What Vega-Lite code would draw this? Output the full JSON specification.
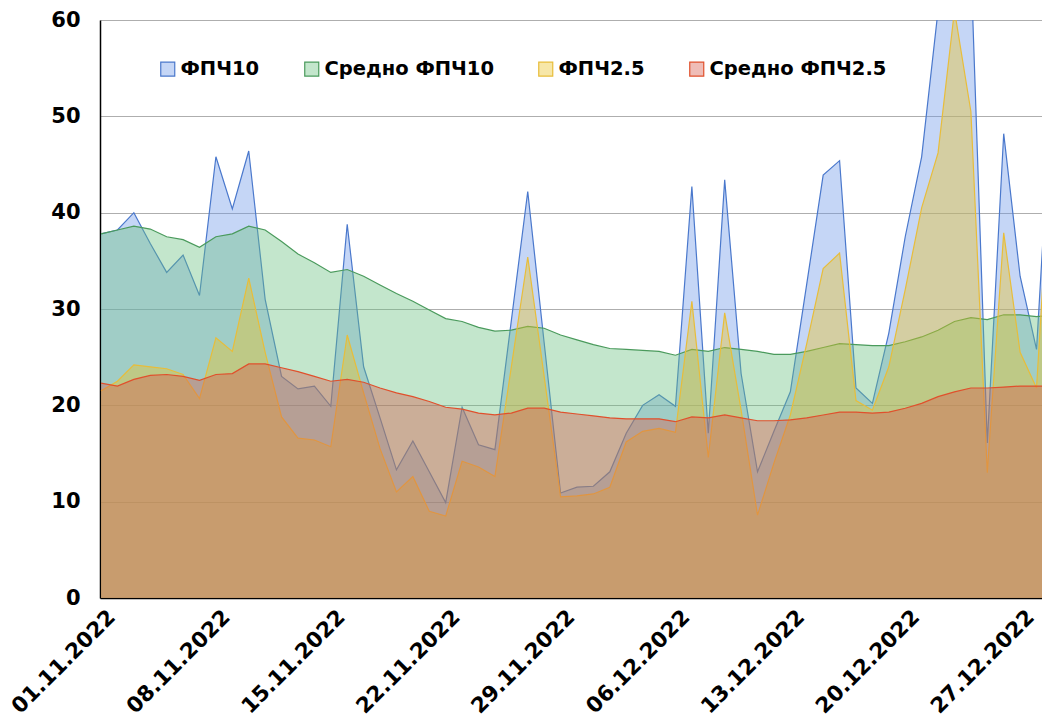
{
  "$schema": "https://vega.github.io/schema/vega-lite/v6.json",
  "width": 942,
  "height": 578,
  "autosize": {"type": "none"},
  "padding": {"left": 100, "top": 20, "right": 0, "bottom": 122},
  "background": "white",
  "config": {
    "view": {"stroke": null},
    "font": "DejaVu Sans",
    "axis": {"zindex": 1, "labelFont": "DejaVu Sans", "labelFontWeight": "bold", "labelColor": "#000000", "domainColor": "#000000", "domainWidth": 1.5, "ticks": false, "tickSize": 0, "title": null},
    "axisY": {"grid": true, "gridColor": "#8c8c8c", "gridOpacity": 0.7, "gridWidth": 1, "labelPadding": 20, "labelFontSize": 21},
    "axisX": {"grid": false, "labelFontSize": 21.5},
    "legend": {"orient": "none", "legendX": 58, "legendY": 39, "direction": "horizontal", "padding": 0, "columnPadding": 42, "symbolType": "square", "symbolSize": 196, "symbolStrokeWidth": 1.2, "labelFont": "DejaVu Sans", "labelFontWeight": "bold", "labelFontSize": 19.5, "labelColor": "#000000", "labelOffset": 3, "labelLimit": 400}
  },
  "data": {
    "values": [
      {"d": "2022-11-01", "pm10": 37.8, "avg10": 37.8, "pm25": 21.5, "avg25": 22.3},
      {"d": "2022-11-02", "pm10": 38.2, "avg10": 38.2, "pm25": 22.5, "avg25": 22.0},
      {"d": "2022-11-03", "pm10": 40.0, "avg10": 38.6, "pm25": 24.2, "avg25": 22.7},
      {"d": "2022-11-04", "pm10": 36.8, "avg10": 38.3, "pm25": 24.0, "avg25": 23.1},
      {"d": "2022-11-05", "pm10": 33.8, "avg10": 37.5, "pm25": 23.8, "avg25": 23.2},
      {"d": "2022-11-06", "pm10": 35.6, "avg10": 37.2, "pm25": 23.2, "avg25": 23.0},
      {"d": "2022-11-07", "pm10": 31.4, "avg10": 36.4, "pm25": 20.7, "avg25": 22.6},
      {"d": "2022-11-08", "pm10": 45.8, "avg10": 37.5, "pm25": 27.0, "avg25": 23.2},
      {"d": "2022-11-09", "pm10": 40.4, "avg10": 37.8, "pm25": 25.6, "avg25": 23.3},
      {"d": "2022-11-10", "pm10": 46.4, "avg10": 38.6, "pm25": 33.2, "avg25": 24.3},
      {"d": "2022-11-11", "pm10": 31.0, "avg10": 38.2, "pm25": 25.5, "avg25": 24.3},
      {"d": "2022-11-12", "pm10": 23.0, "avg10": 37.0, "pm25": 18.8, "avg25": 23.9},
      {"d": "2022-11-13", "pm10": 21.7, "avg10": 35.7, "pm25": 16.6, "avg25": 23.5},
      {"d": "2022-11-14", "pm10": 22.0, "avg10": 34.8, "pm25": 16.4, "avg25": 23.0},
      {"d": "2022-11-15", "pm10": 19.9, "avg10": 33.8, "pm25": 15.7, "avg25": 22.5},
      {"d": "2022-11-16", "pm10": 38.8, "avg10": 34.1, "pm25": 27.3, "avg25": 22.7},
      {"d": "2022-11-17", "pm10": 24.0, "avg10": 33.4, "pm25": 21.3, "avg25": 22.4},
      {"d": "2022-11-18", "pm10": 18.7, "avg10": 32.5, "pm25": 15.5, "avg25": 21.8},
      {"d": "2022-11-19", "pm10": 13.3, "avg10": 31.6, "pm25": 11.0, "avg25": 21.3},
      {"d": "2022-11-20", "pm10": 16.3, "avg10": 30.8, "pm25": 12.6, "avg25": 20.9},
      {"d": "2022-11-21", "pm10": 13.1, "avg10": 29.9, "pm25": 9.0, "avg25": 20.4},
      {"d": "2022-11-22", "pm10": 9.9, "avg10": 29.0, "pm25": 8.5, "avg25": 19.8},
      {"d": "2022-11-23", "pm10": 19.8, "avg10": 28.7, "pm25": 14.2, "avg25": 19.6},
      {"d": "2022-11-24", "pm10": 15.9, "avg10": 28.1, "pm25": 13.6, "avg25": 19.2},
      {"d": "2022-11-25", "pm10": 15.4, "avg10": 27.7, "pm25": 12.6, "avg25": 19.0},
      {"d": "2022-11-26", "pm10": 28.8, "avg10": 27.8, "pm25": 24.0, "avg25": 19.2},
      {"d": "2022-11-27", "pm10": 42.2, "avg10": 28.2, "pm25": 35.4, "avg25": 19.7},
      {"d": "2022-11-28", "pm10": 26.5, "avg10": 28.0, "pm25": 23.0, "avg25": 19.7},
      {"d": "2022-11-29", "pm10": 10.9, "avg10": 27.3, "pm25": 10.5, "avg25": 19.3},
      {"d": "2022-11-30", "pm10": 11.5, "avg10": 26.8, "pm25": 10.6, "avg25": 19.1},
      {"d": "2022-12-01", "pm10": 11.6, "avg10": 26.3, "pm25": 10.8, "avg25": 18.9},
      {"d": "2022-12-02", "pm10": 13.1, "avg10": 25.9, "pm25": 11.5, "avg25": 18.7},
      {"d": "2022-12-03", "pm10": 17.1, "avg10": 25.8, "pm25": 16.2, "avg25": 18.6},
      {"d": "2022-12-04", "pm10": 20.0, "avg10": 25.7, "pm25": 17.3, "avg25": 18.6},
      {"d": "2022-12-05", "pm10": 21.1, "avg10": 25.6, "pm25": 17.6, "avg25": 18.6},
      {"d": "2022-12-06", "pm10": 19.9, "avg10": 25.2, "pm25": 17.2, "avg25": 18.3},
      {"d": "2022-12-07", "pm10": 42.7, "avg10": 25.8, "pm25": 30.8, "avg25": 18.8},
      {"d": "2022-12-08", "pm10": 17.1, "avg10": 25.6, "pm25": 14.6, "avg25": 18.7},
      {"d": "2022-12-09", "pm10": 43.4, "avg10": 26.0, "pm25": 29.6, "avg25": 19.0},
      {"d": "2022-12-10", "pm10": 23.3, "avg10": 25.8, "pm25": 19.5, "avg25": 18.7},
      {"d": "2022-12-11", "pm10": 13.1, "avg10": 25.6, "pm25": 8.6, "avg25": 18.4},
      {"d": "2022-12-12", "pm10": 17.3, "avg10": 25.3, "pm25": 14.0, "avg25": 18.4},
      {"d": "2022-12-13", "pm10": 21.4, "avg10": 25.3, "pm25": 19.0, "avg25": 18.5},
      {"d": "2022-12-14", "pm10": 32.6, "avg10": 25.6, "pm25": 26.4, "avg25": 18.7},
      {"d": "2022-12-15", "pm10": 43.9, "avg10": 26.0, "pm25": 34.2, "avg25": 19.0},
      {"d": "2022-12-16", "pm10": 45.4, "avg10": 26.4, "pm25": 35.8, "avg25": 19.3},
      {"d": "2022-12-17", "pm10": 21.8, "avg10": 26.3, "pm25": 20.5, "avg25": 19.3},
      {"d": "2022-12-18", "pm10": 20.2, "avg10": 26.2, "pm25": 19.5, "avg25": 19.2},
      {"d": "2022-12-19", "pm10": 27.5, "avg10": 26.2, "pm25": 24.0, "avg25": 19.3},
      {"d": "2022-12-20", "pm10": 37.5, "avg10": 26.6, "pm25": 32.0, "avg25": 19.7},
      {"d": "2022-12-21", "pm10": 45.8, "avg10": 27.1, "pm25": 40.5, "avg25": 20.2},
      {"d": "2022-12-22", "pm10": 61.0, "avg10": 27.8, "pm25": 46.2, "avg25": 20.9},
      {"d": "2022-12-23", "pm10": 68.0, "avg10": 28.7, "pm25": 61.0, "avg25": 21.4},
      {"d": "2022-12-24", "pm10": 66.0, "avg10": 29.1, "pm25": 50.5, "avg25": 21.8},
      {"d": "2022-12-25", "pm10": 16.1, "avg10": 28.9, "pm25": 13.0, "avg25": 21.8},
      {"d": "2022-12-26", "pm10": 48.2, "avg10": 29.4, "pm25": 37.9, "avg25": 21.9},
      {"d": "2022-12-27", "pm10": 33.4, "avg10": 29.4, "pm25": 25.5, "avg25": 22.0},
      {"d": "2022-12-28", "pm10": 25.8, "avg10": 29.2, "pm25": 21.8, "avg25": 22.0},
      {"d": "2022-12-29", "pm10": 55.0, "avg10": 29.4, "pm25": 50.0, "avg25": 22.0}
    ]
  },
  "encoding": {
    "x": {
      "field": "d",
      "type": "temporal",
      "title": null,
      "scale": {"type": "utc", "domain": [{"year": 2022, "month": 10, "date": 31, "hours": 22, "minutes": 30, "utc": true}, {"year": 2022, "month": 12, "date": 28, "hours": 8, "utc": true}]},
      "axis": {
        "format": "%d.%m.%Y",
        "labelAngle": -45,
        "labelAlign": "right",
        "labelBaseline": "top",
        "labelPadding": 8,
        "labelOffset": 3,
        "labelOverlap": false,
        "labelFlush": false,
        "labelBound": false,
        "values": [
          {"year": 2022, "month": 11, "date": 1, "utc": true},
          {"year": 2022, "month": 11, "date": 8, "utc": true},
          {"year": 2022, "month": 11, "date": 15, "utc": true},
          {"year": 2022, "month": 11, "date": 22, "utc": true},
          {"year": 2022, "month": 11, "date": 29, "utc": true},
          {"year": 2022, "month": 12, "date": 6, "utc": true},
          {"year": 2022, "month": 12, "date": 13, "utc": true},
          {"year": 2022, "month": 12, "date": 20, "utc": true},
          {"year": 2022, "month": 12, "date": 27, "utc": true}
        ]
      }
    },
    "y": {"type": "quantitative", "stack": null, "title": null, "scale": {"domain": [0, 60]}, "axis": {"values": [0, 10, 20, 30, 40, 50, 60]}}
  },
  "layer": [
    {
      "mark": {"type": "area", "clip": true, "fillOpacity": 0.4},
      "encoding": {
        "y": {"field": "pm10", "type": "quantitative", "stack": null, "title": null, "scale": {"domain": [0, 60]}, "axis": {"values": [0, 10, 20, 30, 40, 50, 60]}},
        "fill": {"datum": "ФПЧ10", "type": "nominal", "scale": {"domain": ["ФПЧ10", "Средно ФПЧ10", "ФПЧ2.5", "Средно ФПЧ2.5"], "range": ["#6e98e8", "#69c07f", "#ebc325", "#d75a4b"]}, "legend": {"title": null, "symbolFillOpacity": 0.4, "encode": {"symbols": {"update": {"fillOpacity": {"value": 0.4}, "strokeWidth": {"value": 1.2}}}}}}
      }
    },
    {
      "mark": {"type": "line", "clip": true, "strokeWidth": 1.2},
      "encoding": {
        "y": {"field": "pm10", "type": "quantitative", "stack": null, "title": null},
        "stroke": {"datum": "ФПЧ10", "type": "nominal", "scale": {"domain": ["ФПЧ10", "Средно ФПЧ10", "ФПЧ2.5", "Средно ФПЧ2.5"], "range": ["#4a78cc", "#4a9a5c", "#e8bd3a", "#e0502c"]}, "legend": {"title": null}}
      }
    },
    {
      "mark": {"type": "area", "clip": true, "fillOpacity": 0.4},
      "encoding": {
        "y": {"field": "avg10", "type": "quantitative", "stack": null, "title": null},
        "fill": {"datum": "Средно ФПЧ10", "type": "nominal", "legend": {"title": null}}
      }
    },
    {
      "mark": {"type": "line", "clip": true, "strokeWidth": 1.2},
      "encoding": {
        "y": {"field": "avg10", "type": "quantitative", "stack": null, "title": null},
        "stroke": {"datum": "Средно ФПЧ10", "type": "nominal", "legend": {"title": null}}
      }
    },
    {
      "mark": {"type": "area", "clip": true, "fillOpacity": 0.4},
      "encoding": {
        "y": {"field": "pm25", "type": "quantitative", "stack": null, "title": null},
        "fill": {"datum": "ФПЧ2.5", "type": "nominal", "legend": {"title": null}}
      }
    },
    {
      "mark": {"type": "line", "clip": true, "strokeWidth": 1.2},
      "encoding": {
        "y": {"field": "pm25", "type": "quantitative", "stack": null, "title": null},
        "stroke": {"datum": "ФПЧ2.5", "type": "nominal", "legend": {"title": null}}
      }
    },
    {
      "mark": {"type": "area", "clip": true, "fillOpacity": 0.4},
      "encoding": {
        "y": {"field": "avg25", "type": "quantitative", "stack": null, "title": null},
        "fill": {"datum": "Средно ФПЧ2.5", "type": "nominal", "legend": {"title": null}}
      }
    },
    {
      "mark": {"type": "line", "clip": true, "strokeWidth": 1.2},
      "encoding": {
        "y": {"field": "avg25", "type": "quantitative", "stack": null, "title": null},
        "stroke": {"datum": "Средно ФПЧ2.5", "type": "nominal", "legend": {"title": null}}
      }
    }
  ]
}
